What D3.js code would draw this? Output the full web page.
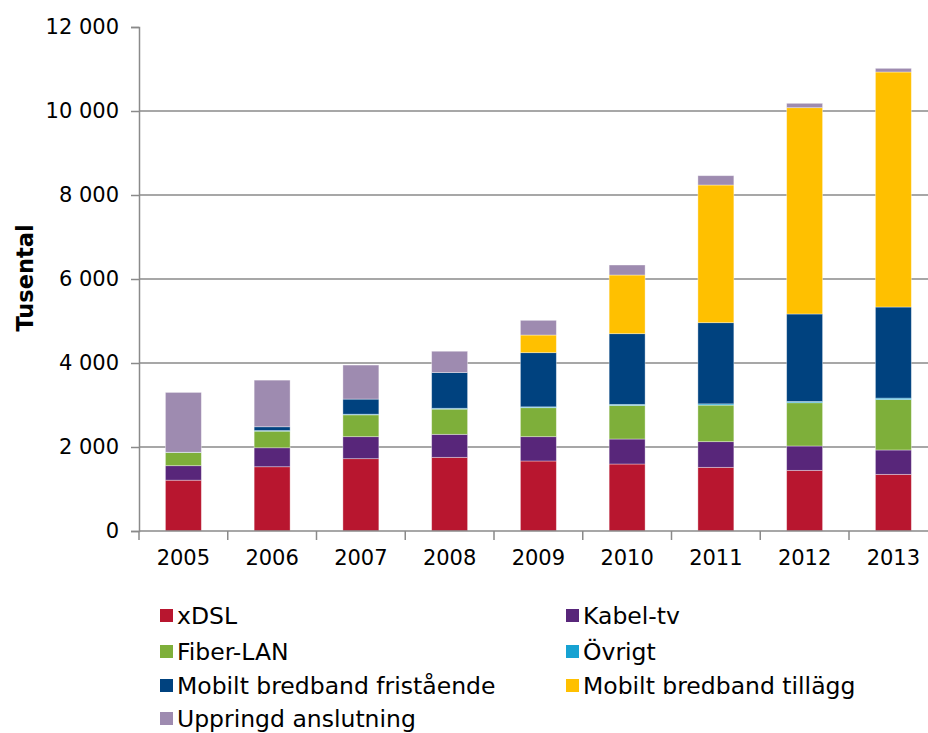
<!DOCTYPE html>
<html>
<head>
<meta charset="utf-8">
<script src="https://cdn.jsdelivr.net/npm/d3@7"></script>
<style>
  html, body { margin: 0; padding: 0; background: #fff; }
  svg { display: block; font-family: "DejaVu Sans", Verdana, sans-serif; }
</style>
</head>
<body>
<svg id="chart" width="928" height="733"></svg>
<script>
// Broadband subscriptions in Sweden by access type (thousands)
const years = ["2005", "2006", "2007", "2008", "2009", "2010", "2011", "2012", "2013"];
const xDSL        = [1210, 1530, 1722, 1754, 1667, 1595, 1516, 1444, 1349];
const kabelTv     = [345, 452, 524, 548, 579, 595, 611, 580, 580];
const fiberLan    = [315, 395, 520, 600, 690, 800, 870, 1030, 1200];
const ovrigt      = [5, 15, 15, 20, 20, 25, 30, 30, 35];
const mobilFri    = [0, 90, 360, 850, 1290, 1683, 1933, 2083, 2169];
const mobilTill   = [0, 0, 0, 0, 420, 1397, 3278, 4912, 5596];
const uppringd    = [1425, 1110, 810, 508, 350, 238, 222, 104, 87];
const yTicks = [0, 2000, 4000, 6000, 8000, 10000, 12000];

const seriesNames = ["xDSL", "Kabel-tv", "Fiber-LAN", "Övrigt",
  "Mobilt bredband fristående", "Mobilt bredband tillägg", "Uppringd anslutning"];
const seriesValues = [xDSL, kabelTv, fiberLan, ovrigt, mobilFri, mobilTill, uppringd];
const colors = ["#B8162F", "#58267A", "#7EAF3A", "#17A2D2", "#00427F", "#FFC000", "#9E8BB0"];

const rows = years.map((y, i) => {
  const r = { year: y };
  seriesNames.forEach((n, k) => r[n] = seriesValues[k][i]);
  return r;
});
const stacked = d3.stack().keys(seriesNames)(rows);

const svg = d3.select("#chart");
const x0 = 139, yBase = 531, yTop = 27;
const step = 88.75;
const axisColor = "#8a8a8a";

const x = d3.scaleBand().domain(years).range([x0, x0 + step * years.length])
  .paddingInner(0.595).paddingOuter(0.2975);
const y = d3.scaleLinear().domain([0, 12000]).range([yBase, yTop]);

const fmt = v => d3.format(",")(v).replace(/,/g, " ");

// Horizontal gridlines
svg.append("g").selectAll("line").data(yTicks.filter(t => t > 0 && t < 12000))
  .join("line")
  .attr("x1", x0).attr("x2", 928)
  .attr("y1", d => y(d)).attr("y2", d => y(d))
  .attr("stroke", axisColor).attr("stroke-width", 1.5);

// Stacked bars
svg.append("g").selectAll("g").data(stacked).join("g")
  .attr("fill", (d, i) => colors[i])
  .selectAll("rect").data(d => d).join("rect")
  .attr("x", d => x(d.data.year))
  .attr("width", x.bandwidth())
  .attr("y", d => y(d[1]))
  .attr("height", d => Math.max(0, y(d[0]) - y(d[1])))
  .attr("stroke", "rgba(255,255,255,0.45)")
  .attr("stroke-width", 0.8);

// Y axis
const yAxis = d3.axisLeft(y).tickValues(yTicks).tickFormat(fmt).tickSize(8).tickPadding(12);
const gy = svg.append("g").attr("transform", `translate(${x0},0)`).call(yAxis);
gy.select(".domain").attr("stroke", axisColor).attr("stroke-width", 1.5);
gy.selectAll(".tick line").attr("stroke", axisColor).attr("stroke-width", 1.5);
gy.selectAll(".tick text").attr("font-size", 21).attr("fill", "#000")
  .attr("font-family", "'DejaVu Sans', Verdana, sans-serif");

// X axis: tick marks at category boundaries, labels centred under bars
const gx = svg.append("g").attr("transform", `translate(0,${yBase})`);
gx.append("line").attr("x1", x0).attr("x2", 928).attr("y1", 0).attr("y2", 0)
  .attr("stroke", axisColor).attr("stroke-width", 1.5);
gx.selectAll("line.tk").data(years).join("line").attr("class", "tk")
  .attr("x1", d => x(d) + x.bandwidth() / 2 - x.step() / 2)
  .attr("x2", d => x(d) + x.bandwidth() / 2 - x.step() / 2)
  .attr("y1", 0).attr("y2", 9)
  .attr("stroke", axisColor).attr("stroke-width", 1.5);
gx.selectAll("text").data(years).join("text")
  .attr("x", d => x(d) + x.bandwidth() / 2)
  .attr("y", 34)
  .attr("text-anchor", "middle")
  .attr("font-size", 21)
  .text(d => d);

// Y axis title
svg.append("text")
  .attr("transform", "translate(33,278) rotate(-90)")
  .attr("text-anchor", "middle")
  .attr("font-size", 22.5)
  .attr("font-weight", "bold")
  .text("Tusental");

// Legend, two columns
const legSquareX = [160, 566];
const legBaselines = [624, 660, 694, 727];
const legend = svg.append("g");
seriesNames.forEach((n, i) => {
  const sx = legSquareX[i % 2], by = legBaselines[Math.floor(i / 2)];
  legend.append("rect")
    .attr("x", sx).attr("y", by - 15).attr("width", 13).attr("height", 13)
    .attr("fill", colors[i]);
  legend.append("text")
    .attr("x", sx + 17).attr("y", by)
    .attr("font-size", 23.5)
    .text(n);
});
</script>
</body>
</html>
